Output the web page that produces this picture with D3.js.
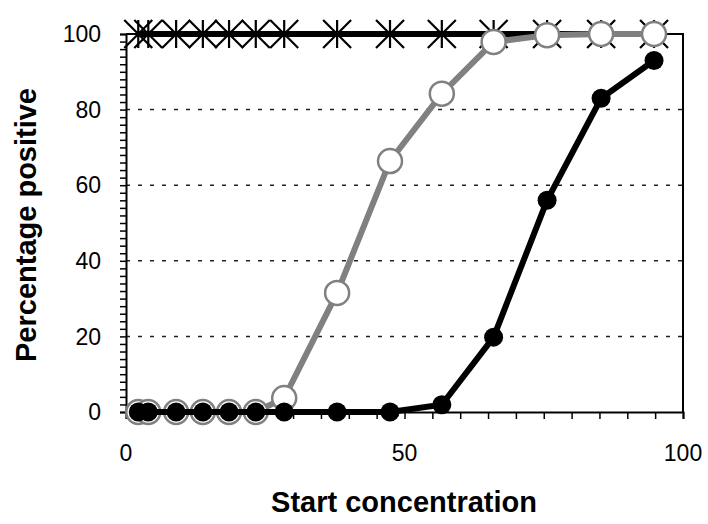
<!DOCTYPE html>
<html>
<head>
<meta charset="utf-8">
<script src="https://cdn.jsdelivr.net/npm/d3@7"></script>
<style>
  html, body { margin: 0; padding: 0; background: #fff; }
  svg { display: block; font-family: "Liberation Sans", Arial, sans-serif; }
</style>
</head>
<body>
<svg id="chart" width="708" height="524"></svg>
<script>
// Start concentrations tested
const concentrations = [2.2, 4.0, 9.0, 13.8, 18.5, 23.3, 28.4, 37.9, 47.4, 56.7, 66.0, 75.6, 85.3, 94.8];
// Percentage positive for each series
const allPositive   = [100, 100, 100, 100, 100, 100, 100, 100, 100, 100, 100, 100, 100, 100];
const greySeries    = [0, 0, 0, 0, 0, 0, 3.7, 31.5, 66.4, 84.2, 97.9, 99.7, 100, 100];
const blackSeries   = [0, 0, 0, 0, 0, 0, 0, 0, 0, 1.9, 19.8, 56, 83, 93];
const yTicks = [0, 20, 40, 60, 80, 100];
const xTicks = [0, 50, 100];
const gridValues = [20, 40, 60, 80];

const svg = d3.select("#chart");
const x = d3.scaleLinear().domain([0, 100]).range([126, 683]);
const y = d3.scaleLinear().domain([0, 100]).range([412, 34]);

// dashed horizontal gridlines
svg.append("g").selectAll("line").data(gridValues).join("line")
  .attr("x1", x(0)).attr("x2", x(100))
  .attr("y1", d => y(d)).attr("y2", d => y(d))
  .attr("stroke", "#222").attr("stroke-width", 1.5)
  .attr("stroke-dasharray", "4,8");

// plot frame (top and right)
svg.append("path")
  .attr("d", `M${x(0)},${y(100)}H${x(100)}V${y(0)}`)
  .attr("fill", "none").attr("stroke", "#000").attr("stroke-width", 2);

// y axis with minor ticks every 2
const yAxis = d3.axisLeft(y).tickValues(d3.range(0, 101, 2)).tickSize(6).tickFormat("");
const gy = svg.append("g").attr("transform", `translate(${x(0)},0)`).call(yAxis);
gy.select(".domain").attr("stroke-width", 2);
gy.selectAll(".tick line").attr("stroke-width", 1.5);

svg.append("g").selectAll("text").data(yTicks).join("text")
  .attr("x", 101).attr("y", d => y(d)).attr("dy", "0.36em")
  .attr("text-anchor", "end").attr("font-size", 23).text(d => d);

// x axis with minor ticks every 5
const xAxis = d3.axisBottom(x).tickValues(d3.range(0, 101, 5)).tickSize(7).tickFormat("");
const gx = svg.append("g").attr("transform", `translate(0,${y(0)})`).call(xAxis);
gx.select(".domain").attr("stroke-width", 2);
gx.selectAll(".tick line").attr("stroke-width", 1.5);

svg.append("g").selectAll("text").data(xTicks).join("text")
  .attr("x", d => x(d)).attr("y", 461)
  .attr("text-anchor", "middle").attr("font-size", 23).text(d => d);

// axis titles
svg.append("text").attr("x", 404).attr("y", 512)
  .attr("text-anchor", "middle").attr("font-size", 29).attr("font-weight", "bold")
  .text("Start concentration");
svg.append("text").attr("transform", "translate(36,225) rotate(-90)")
  .attr("text-anchor", "middle").attr("font-size", 29).attr("font-weight", "bold")
  .text("Percentage positive");

const line = d3.line().x(d => x(d[0])).y(d => y(d[1]));
const pairs = vals => concentrations.map((c, i) => [c, vals[i]]);

// series 1: all positive, black line with asterisk markers
svg.append("path").datum(pairs(allPositive)).attr("d", line)
  .attr("fill", "none").attr("stroke", "#000").attr("stroke-width", 6);
const a = 14;
svg.append("g").selectAll("path").data(pairs(allPositive)).join("path")
  .attr("transform", d => `translate(${x(d[0])},${y(d[1])})`)
  .attr("d", `M${-a},${-a}L${a},${a}M${-a},${a}L${a},${-a}M0,${-a}L0,${a}`)
  .attr("stroke", "#000").attr("stroke-width", 2.2).attr("fill", "none");

// series 2: grey line with open circles
svg.append("path").datum(pairs(greySeries)).attr("d", line)
  .attr("fill", "none").attr("stroke", "#808080").attr("stroke-width", 6);
svg.append("g").selectAll("circle").data(pairs(greySeries)).join("circle")
  .attr("cx", d => x(d[0])).attr("cy", d => y(d[1])).attr("r", 12)
  .attr("fill", "#fff").attr("stroke", "#808080").attr("stroke-width", 2.5);

// series 3: black line with filled circles
svg.append("path").datum(pairs(blackSeries)).attr("d", line)
  .attr("fill", "none").attr("stroke", "#000").attr("stroke-width", 6);
svg.append("g").selectAll("circle").data(pairs(blackSeries)).join("circle")
  .attr("cx", d => x(d[0])).attr("cy", d => y(d[1])).attr("r", 9.5)
  .attr("fill", "#000");
</script>
</body>
</html>
